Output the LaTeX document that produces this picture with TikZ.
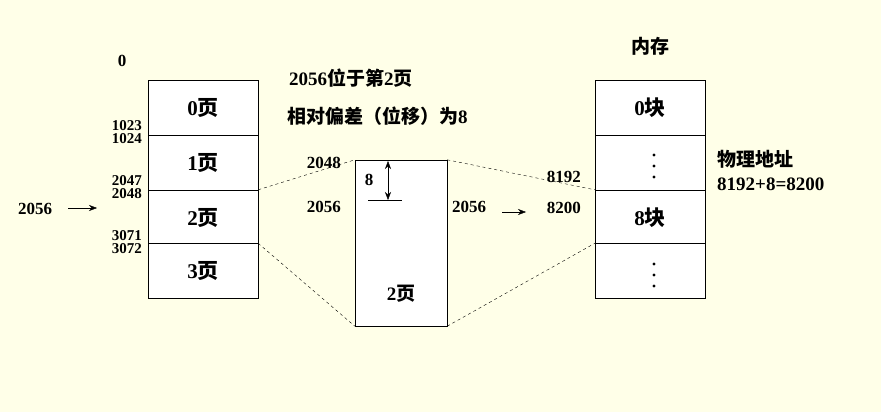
\documentclass[tikz,border=0pt]{standalone}
\usepackage{fontspec}
\setmainfont{Liberation Serif}
\newfontfamily\cjk{Noto Sans CJK SC}
\usetikzlibrary{positioning,arrows.meta}
\definecolor{bgyellow}{RGB}{255,255,232}
\begin{document}
\begin{tikzpicture}[x=1pt,y=-1pt,
			cell/.style={draw, fill=white, minimum width=110pt, minimum height=55pt, inner sep=0pt, font=\fontsize{21}{21}\selectfont\bfseries},
			num/.style={inner sep=1pt, font=\fontsize{15}{15}\selectfont\bfseries},
			big/.style={inner sep=1pt, font=\fontsize{17}{17}\selectfont\bfseries},
			txt/.style={inner sep=1pt, font=\fontsize{19}{24}\selectfont\bfseries},
			tip/.style={-{Stealth[length=8pt,width=6pt]}}]
			\fill[bgyellow] (0,0) rectangle (881,412);
			\node[cell] (p0) at (203, 107.5) {0\cjk 页};
			\node[cell] (p1) at (203, 162.5) {1\cjk 页};
			\node[cell] (p2) at (203, 217.5) {2\cjk 页};
			\node[cell] (p3) at (203, 271) {3\cjk 页};
			\node[cell] (m0) at (650, 107.5) {0\cjk 块};
			\node[cell] (m1) at (650, 162.5) {};
			\node[cell] (m2) at (650, 217.5) {8\cjk 块};
			\node[cell] (m3) at (650, 271) {};
			% vertical dots
			\foreach \y in {155,166,177} \fill (654, \y) circle (1.7pt);
			\foreach \y in {264,275,286} \fill (654, \y) circle (1.7pt);
			\node[draw, fill=white, minimum width=92pt, minimum height=166pt, inner sep=0pt] (pg) at (401, 243) {};
			\node[txt] at (401, 294) {2\cjk 页};
			\node[big] at (122, 61) {0};
			\node[txt] at (650, 46) {\cjk 内存};
			\node[txt, anchor=west] at (288, 78) {2056\cjk 位于第\rmfamily 2\cjk 页};
			\node[txt, anchor=west] at (286, 116) {\cjk 相对偏差（位移）为\rmfamily 8};
			\node[txt, anchor=west, align=left] at (716, 170) {\cjk 物理地址\\8192+8=8200};
			% addresses
			\node[num, anchor=east] at (143, 126) {1023};
			\node[num, anchor=east] at (143, 139) {1024};
			\node[num, anchor=east] at (143, 181) {2047};
			\node[num, anchor=east] at (143, 194) {2048};
			\node[num, anchor=east] at (143, 236) {3071};
			\node[num, anchor=east] at (143, 249) {3072};
			\node[big] (a0) at (35, 209) {2056};
			\node[big, anchor=east] (a1) at (342, 163) {2048};
			\node[big, anchor=east] at (342, 207) {2056};
			\node[big, anchor=west] (a2) at (451, 207) {2056};
			\node[big, anchor=east] at (582, 177) {8192};
			\node[big, anchor=east] (a3) at (582, 208) {8200};
			\node[big] at (369, 180) {8};
			\coordinate (s0) at (68, 208);
			\coordinate (c0) at (97, 208);
			\coordinate (s1) at (502, 212);
			\coordinate (c1) at (526, 212);
			\coordinate (t8) at (388, 161);
			\coordinate (b8) at (388, 200);
			\draw[tip] (s0) -- (c0);
			\draw[tip] (s1) -- (c1);
			\draw[{Stealth[length=8pt,width=6pt]}-{Stealth[length=8pt,width=6pt]}] (t8) -- (b8);
			\draw (368, 200) -- (402, 200);
			\draw[dashed] (p2.north east) -- (pg.north west);
			\draw[dashed] (p3.north east) -- (pg.south west);
			\draw[dashed] (pg.north east) -- (m2.north west);
			\draw[dashed] (pg.south east) -- (m3.north west);
\end{tikzpicture}
\end{document}
